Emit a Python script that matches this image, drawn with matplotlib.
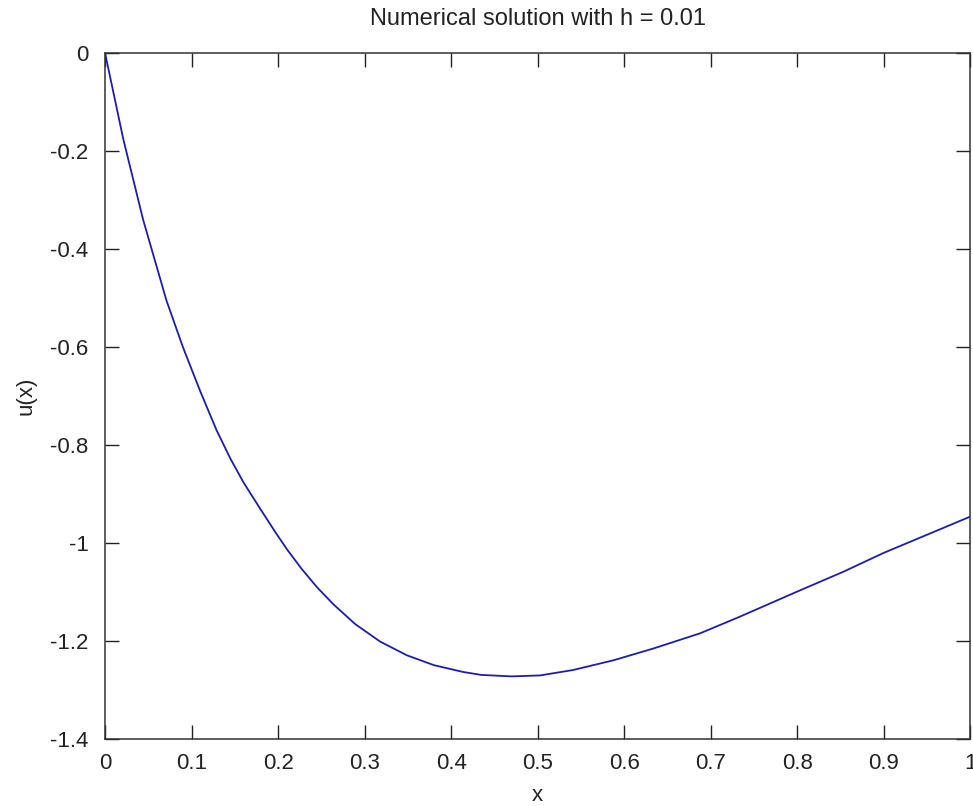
import matplotlib
matplotlib.use("Agg")
import matplotlib.pyplot as plt

# values
x_vals = [0.0, 0.021, 0.044, 0.071, 0.090, 0.110, 0.129, 0.145, 0.160, 0.179,
          0.197, 0.210, 0.227, 0.245, 0.264, 0.289, 0.318, 0.349, 0.380, 0.414,
          0.435, 0.470, 0.503, 0.541, 0.588, 0.634, 0.688, 0.734, 0.800, 0.854,
          0.900, 0.969, 1.0]
u_vals = [0.0, -0.175, -0.340, -0.505, -0.600, -0.690, -0.770, -0.828, -0.876, -0.929,
          -0.978, -1.012, -1.052, -1.090, -1.125, -1.165, -1.201, -1.229, -1.249, -1.263,
          -1.269, -1.272, -1.270, -1.259, -1.239, -1.215, -1.184, -1.150, -1.099, -1.058,
          -1.020, -0.969, -0.946]

x_ticks = [0, 0.1, 0.2, 0.3, 0.4, 0.5, 0.6, 0.7, 0.8, 0.9, 1]
x_ticklabels = ['0', '0.1', '0.2', '0.3', '0.4', '0.5', '0.6', '0.7', '0.8', '0.9', '1']
y_ticks = [0, -0.2, -0.4, -0.6, -0.8, -1, -1.2, -1.4]
y_ticklabels = ['0', '-0.2', '-0.4', '-0.6', '-0.8', '-1', '-1.2', '-1.4']

plt.rcParams['font.family'] = ['Liberation Sans', 'DejaVu Sans']

fig = plt.figure(figsize=(9.73, 8.06), dpi=100)
ax = fig.add_axes([0.108, 0.083, 0.889, 0.851])

ax.plot(x_vals, u_vals, color='#1c1cb4', linewidth=1.3)

ax.set_xlim(0, 1)
ax.set_ylim(-1.4, 0)
ax.set_xticks(x_ticks)
ax.set_xticklabels(x_ticklabels)
ax.set_yticks(y_ticks)
ax.set_yticklabels(y_ticklabels)

# matlab style ticks: inward, on every side
ax.tick_params(direction='in', length=10, width=1, top=True, right=True,
               labelsize=16, colors='#222222')
ax.tick_params(axis='x', pad=10)
ax.tick_params(axis='y', pad=12)
for sp in ax.spines.values():
    sp.set_linewidth(1.1)
    sp.set_color('#333333')

ax.set_title('Numerical solution with h = 0.01', fontsize=17, pad=20, color='#222222')
ax.set_xlabel('x', fontsize=16, color='#222222', labelpad=8)
ax.set_ylabel('u(x)', fontsize=16, color='#222222', labelpad=10)

fig.savefig('out.png', dpi=100)
